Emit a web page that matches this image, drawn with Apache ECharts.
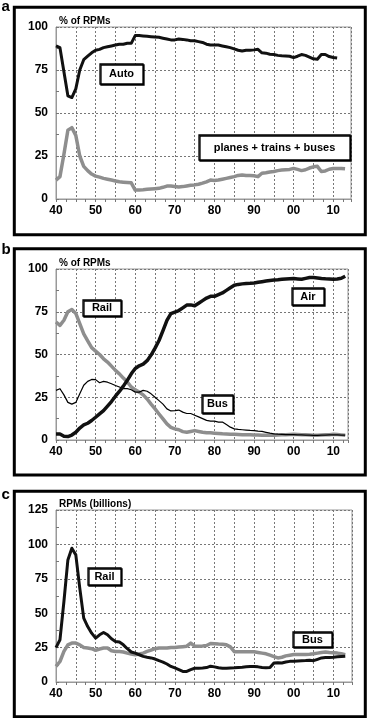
<!DOCTYPE html>
<html>
<head>
<meta charset="utf-8">
<script src="https://cdn.jsdelivr.net/npm/echarts@6/dist/echarts.min.js"></script>
<style>
  html, body { margin: 0; padding: 0; background: #fff; }
  #main { width: 372px; height: 718px; }
</style>
</head>
<body>
<div id="main"></div>
<script>
// yearly values, first value is 1940
var autoShare = [89, 88, 74, 60, 59, 64, 75, 81, 83, 85,
  86.5, 87, 88, 88.5, 89, 89.5, 90, 90, 90.5, 90.5,
  95, 95, 94.8, 94.6, 94.4, 94.2, 94, 93.5, 93, 92.5,
  92.5, 93, 92.8, 92.5, 92, 92, 91.5, 91, 90, 89.5,
  89.5, 89.5, 89, 88.5, 88, 87.3, 86.5, 86, 86.5, 86.5,
  86.7, 87, 85, 84.8, 84.2, 84, 83.5, 83.3, 83.2, 83,
  82.2, 83, 84, 83.5, 82.5, 81.5, 81.3, 84, 84, 82.8,
  82.3, 82];
var otherShare = [11, 13, 26, 40, 41.5, 37, 25, 19, 16.5, 14.5,
  13.3, 12.7, 12, 11.5, 11, 10.5, 10, 9.8, 9.6, 9.4,
  5.2, 5.3, 5.4, 5.6, 5.8, 6, 6.2, 6.8, 7.5, 7.5,
  7.3, 7, 7.2, 7.6, 8, 8.2, 8.6, 9.2, 10, 11,
  10.8, 11, 11.5, 12, 12.5, 13, 13.7, 14, 13.7, 13.6,
  13.5, 13, 15, 15.3, 15.7, 16, 16.5, 16.8, 17, 17.2,
  17.8, 17.2, 16.5, 17, 18, 18.7, 19, 16, 16.3, 17.3,
  17.7, 17.8, 17.8, 17.6];

var railShare = [69, 67, 70, 75, 76.3, 74, 68, 62, 58, 54,
  52, 50, 47.5, 45.6, 43.2, 40.7, 38.7, 36.2, 33.9, 31,
  29.3, 28, 26.4, 24, 21, 18.2, 15.2, 12.3, 9.4, 7.4,
  6.5, 6, 4.9, 4.5, 5, 5.5, 5, 4.5, 4.2, 4.2,
  4, 3.8, 3.6, 3.5, 3.4, 3.3, 3.2, 3.1, 3, 3,
  2.9, 2.9, 2.8, 2.8, 2.8, 2.8, 2.9, 3, 3.1, 3.2,
  3.3, 3.2, 3.1, 3, 2.9, 2.8, 2.8, 2.9, 3, 3.1,
  3.3, 3.2, 3, 2.8];
var airShare = [3.5, 3.5, 2.2, 2, 2.9, 4.5, 7, 8.8, 9.8, 11.4,
  13.3, 15.3, 17.2, 19.8, 22.5, 25.6, 28.4, 31.5, 34.9, 38.7,
  41.8, 43.4, 44.4, 46.4, 49.7, 53.7, 58.2, 64, 69.9, 73.9,
  74.8, 75.7, 77.3, 78.9, 79, 78.5, 80, 81.5, 83, 84,
  84, 85, 86, 87.5, 89, 90.5, 91, 91.3, 91.5, 91.6,
  91.8, 92.2, 92.6, 93, 93.3, 93.5, 93.7, 94, 94.2, 94.3,
  94.4, 94.2, 94, 94.5, 95, 95, 94.8, 94.5, 94.3, 94.2,
  94, 94.2, 94.6, 95.8];
var busShare = [29, 30, 26.4, 22, 21, 22, 27, 32, 34.3, 35.4,
  35.3, 33.5, 34.3, 33.8, 32.9, 31.9, 31, 30, 30, 29.4,
  28, 28, 29, 28.5, 27, 25, 23, 21, 18.2, 17,
  17.2, 17.5, 16.3, 15.5, 15.5, 14.5, 13.5, 12.5, 11.5, 11,
  11, 10.5, 10.5, 9, 7.5, 6.5, 6.2, 6, 5.8, 5.6,
  5.5, 5.2, 5, 4.5, 4, 3.6, 3.4, 3.3, 3.2, 3.2,
  3.1, 3, 3, 2.9, 2.8, 2.7, 2.7, 2.8, 2.9, 3,
  3, 3, 2.9, 2.8];

var railRpm = [25, 30.7, 58.5, 88.7, 97.2, 92.4, 68.2, 46.4, 40.3, 35.5,
  31.9, 34.3, 36, 34.3, 31.4, 29.5, 29, 27, 24.2, 21.8,
  21, 19.8, 18.6, 18, 17.5, 16.7, 15.5, 14.5, 13.1, 11.3,
  10.2, 9, 7.7, 7.7, 9, 10, 10, 10.2, 10.5, 11.5,
  11, 10.3, 10, 10, 10.2, 10.3, 10.5, 10.7, 11, 11.3,
  11.3, 11, 10.5, 10.3, 10.5, 13.8, 14, 13.8, 14.5, 15,
  15, 15.3, 15.5, 15.6, 15.8, 15.5, 16.5, 17.5, 17.8, 17.8,
  18, 18.3, 18.5, 18.7];
var busRpm = [11.3, 14.9, 22.2, 27, 28.3, 28.3, 27, 25.1, 24.7, 24.2,
  23, 24, 24.7, 24.7, 22.7, 22.2, 22.2, 21.8, 21, 20.3,
  19.8, 20.3, 21, 22.2, 23.2, 24.2, 24.7, 24.7, 24.7, 25.1,
  25.1, 25.4, 25.7, 26, 28.3, 26, 26, 26.2, 26.5, 28,
  27.8, 27.6, 27.5, 27, 25.5, 22, 22, 22, 22, 22,
  22, 21.5, 21, 20.5, 19.5, 18.5, 17.5, 18, 19, 19.5,
  20, 20, 20, 20, 20.2, 20.5, 21, 21.5, 21.8, 21.5,
  21.3, 21, 20.5, 19.8];

var yTicksPct = [0, 100, 25];
var yTicksRpm = [0, 125, 25];

function byYear(arr) {
  return arr.map(function (v, i) { return [1940 + i, v]; });
}

var chart = echarts.init(document.getElementById('main'));
var FONT = '"Liberation Sans", Arial, sans-serif';
var BLACK = '#111';
var GRAY = '#8e8e8e';

var grids = [
  { left: 56, top: 27, width: 295, height: 172 },
  { left: 56, top: 269, width: 292, height: 171 },
  { left: 56, top: 510, width: 296, height: 172 }
];
var xMax = [2014.5, 2013.7, 2014.7];

function xAxisFor(i) {
  return {
    type: 'value', gridIndex: i, min: 1940, max: xMax[i], interval: 5,
    axisLine: { lineStyle: { color: '#999', width: 1 } },
    axisTick: { show: true, length: 3, lineStyle: { color: '#777' } },
    minorTick: { show: true, splitNumber: 2, length: 3, lineStyle: { color: '#777' } },
    splitLine: { show: true, lineStyle: { color: '#777', type: [2, 2], width: 1 } },
    axisLabel: {
      color: '#000', fontFamily: FONT, fontWeight: 'bold', fontSize: 12, margin: 6,
      showMaxLabel: false,
      formatter: function (v) {
        if (v % 10 !== 0) return '';
        var s = String(v % 100);
        return s.length < 2 ? '0' + s : s;
      }
    }
  };
}
function yAxisFor(i, ticks, name) {
  return {
    type: 'value', gridIndex: i, min: ticks[0], max: ticks[1], interval: ticks[2],
    name: name, nameLocation: 'end', nameGap: 1,
    nameTextStyle: { color: '#000', fontFamily: FONT, fontWeight: 'bold', fontSize: 10,
      align: 'left', verticalAlign: 'bottom', padding: [0, 0, 0, 3] },
    axisLine: { show: true, lineStyle: { color: '#999', width: 1 } },
    axisTick: { show: true, inside: true, length: 3, lineStyle: { color: '#777' } },
    minorTick: { show: true, splitNumber: 2, length: 3, lineStyle: { color: '#777' } },
    splitLine: { show: true, lineStyle: { color: '#777', type: [2, 2], width: 1 } },
    axisLabel: { color: '#000', fontFamily: FONT, fontWeight: 'bold', fontSize: 12, margin: 8 }
  };
}

function line(i, data, color, width) {
  return {
    type: 'line', xAxisIndex: i, yAxisIndex: i, data: byYear(data),
    showSymbol: false, symbol: 'none', animation: false,
    lineStyle: { color: color, width: width, join: 'round' }, z: color === GRAY ? 3 : 4
  };
}

function tag(x, y, w, h, text) {
  return {
    type: 'group', children: [
      { type: 'rect', shape: { x: x, y: y, width: w, height: h },
        style: { fill: '#fff', stroke: '#000', lineWidth: 1.3,
          shadowColor: '#000', shadowOffsetX: 1, shadowOffsetY: 1, shadowBlur: 0 }, z: 10 },
      { type: 'text', x: x + w / 2, y: y + h / 2, z: 11,
        style: { text: text, fill: '#000', font: 'bold 11px ' + FONT,
          textAlign: 'center', textVerticalAlign: 'middle' } }
    ]
  };
}
function frame(y, h) {
  return { type: 'rect', shape: { x: 14.3, y: y, width: 351, height: h },
    style: { fill: 'none', stroke: '#000', lineWidth: 3 }, z: 12 };
}
function letter(y, t) {
  return { type: 'text', x: 1.5, y: y, z: 12,
    style: { text: t, fill: '#000', font: 'bold 15px ' + FONT, textVerticalAlign: 'top' } };
}

chart.setOption({
  backgroundColor: '#fff',
  animation: false,
  grid: grids.map(function (g) {
    return Object.assign({ show: true, borderColor: '#999', borderWidth: 1, backgroundColor: 'transparent' }, g);
  }),
  xAxis: [xAxisFor(0), xAxisFor(1), xAxisFor(2)],
  yAxis: [yAxisFor(0, yTicksPct, '% of RPMs'), yAxisFor(1, yTicksPct, '% of RPMs'),
    yAxisFor(2, yTicksRpm, 'RPMs (billions)')],
  series: [
    line(0, otherShare, GRAY, 3.5),
    line(0, autoShare, BLACK, 3),
    line(1, railShare, GRAY, 3.5),
    line(1, busShare, '#000', 1.2),
    line(1, airShare, BLACK, 3.5),
    line(2, busRpm, GRAY, 3.5),
    line(2, railRpm, BLACK, 3)
  ],
  graphic: [
    frame(7.3, 227.4), frame(248.7, 226.3), frame(491.3, 225.4),
    letter(-1, 'a'), letter(242, 'b'), letter(487, 'c'),
    tag(100, 64, 43, 20, 'Auto'),
    tag(199, 135, 151, 25, 'planes + trains + buses'),
    tag(83, 300, 38, 16, 'Rail'),
    tag(292, 288, 32, 17, 'Air'),
    tag(202, 395, 31, 18, 'Bus'),
    tag(88, 568, 33, 17, 'Rail'),
    tag(293, 632, 39, 15, 'Bus')
  ]
});
</script>
</body>
</html>
